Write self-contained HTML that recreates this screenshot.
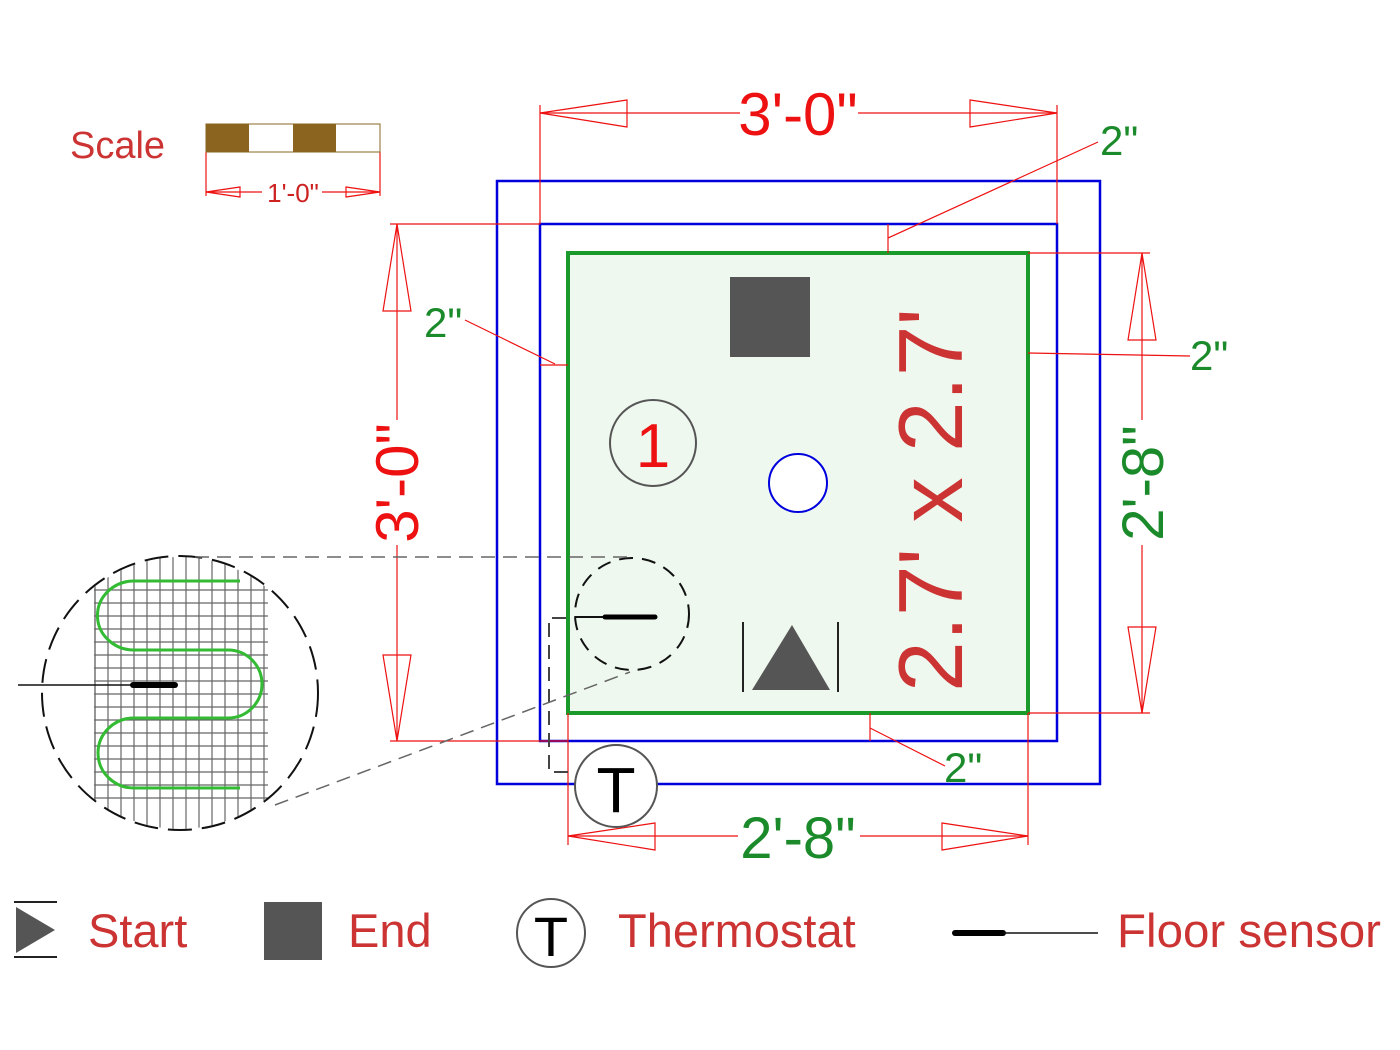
<!DOCTYPE html>
<html><head><style>body{margin:0;background:#fff}svg{display:block}</style></head><body>
<svg width="1400" height="1050" viewBox="0 0 1400 1050" xmlns="http://www.w3.org/2000/svg" font-family="Liberation Sans, sans-serif">
<defs><clipPath id="zc"><ellipse cx="180" cy="693" rx="137" ry="136"/></clipPath></defs>
<!-- rooms -->
<rect x="497" y="181" width="603" height="603" fill="none" stroke="#0000dd" stroke-width="2.5"/>
<rect x="540" y="224" width="517" height="517" fill="none" stroke="#0000dd" stroke-width="2.5"/>
<rect x="568" y="253" width="460" height="460" fill="#eef8ef" stroke="#1a9a2a" stroke-width="4"/>
<g stroke="#ee1111" stroke-width="1.2" fill="none">
<line x1="540" y1="113" x2="740" y2="113"/><line x1="858" y1="113" x2="1057" y2="113"/>
<line x1="540" y1="105" x2="540" y2="224"/><line x1="1057" y1="105" x2="1057" y2="224"/>
<polygon points="540,113 627,100 627,127"/><polygon points="1057,113 970,100 970,127"/>
<line x1="397" y1="224" x2="397" y2="420"/><line x1="397" y1="545" x2="397" y2="741"/>
<line x1="390" y1="224" x2="540" y2="224"/><line x1="390" y1="741" x2="568" y2="741"/>
<polygon points="397,224 383,311 411,311"/><polygon points="397,741 383,655 411,655"/>
<line x1="1142" y1="253" x2="1142" y2="420"/><line x1="1142" y1="545" x2="1142" y2="713"/>
<line x1="1028" y1="253" x2="1150" y2="253"/><line x1="1028" y1="713" x2="1150" y2="713"/>
<polygon points="1142,253 1128,340 1156,340"/><polygon points="1142,713 1128,627 1156,627"/>
<line x1="568" y1="836" x2="738" y2="836"/><line x1="860" y1="836" x2="1028" y2="836"/>
<line x1="568" y1="713" x2="568" y2="845"/><line x1="1028" y1="713" x2="1028" y2="845"/>
<polygon points="568,836 655,823 655,850"/><polygon points="1028,836 942,823 942,850"/>
<line x1="1098" y1="142" x2="888" y2="238"/><line x1="888" y1="224" x2="888" y2="253"/>
<line x1="465" y1="320" x2="555" y2="364"/><line x1="540" y1="365" x2="568" y2="365"/>
<line x1="1028" y1="353" x2="1190" y2="356"/>
<line x1="870" y1="728" x2="945" y2="766"/><line x1="870" y1="713" x2="870" y2="741"/>
<line x1="206" y1="192" x2="262" y2="192"/><line x1="322" y1="192" x2="380" y2="192"/>
<line x1="206" y1="152" x2="206" y2="196"/><line x1="380" y1="152" x2="380" y2="196"/>
<polygon points="206,192 240,187 240,197"/><polygon points="380,192 346,187 346,197"/>
</g>
<text x="798" y="135" font-size="60" fill="#ee1111" text-anchor="middle">3'-0"</text>
<text transform="translate(418,483) rotate(-90)" font-size="60" fill="#ee1111" text-anchor="middle">3'-0"</text>
<text transform="translate(1163,483) rotate(-90)" font-size="58" fill="#1a8a2a" text-anchor="middle">2'-8"</text>
<text x="798" y="858" font-size="58" fill="#1a8a2a" text-anchor="middle">2'-8"</text>
<g font-size="42" fill="#1a8a2a"><text x="1100" y="155">2"</text><text x="424" y="337">2"</text><text x="1190" y="370">2"</text><text x="944" y="782">2"</text></g>
<rect x="730" y="277" width="80" height="80" fill="#555"/>
<circle cx="653" cy="443" r="43" fill="none" stroke="#555" stroke-width="2"/>
<text x="653" y="467" font-size="62" fill="#ee1111" text-anchor="middle">1</text>
<circle cx="798" cy="483" r="29" fill="#fff" stroke="#0000dd" stroke-width="2"/>
<polygon points="752,690 792,625 830,690" fill="#555"/>
<line x1="743" y1="622" x2="743" y2="692" stroke="#222" stroke-width="2"/><line x1="838" y1="622" x2="838" y2="692" stroke="#222" stroke-width="2"/>
<text transform="translate(962,500) rotate(-90)" font-size="91" fill="#cc3333" text-anchor="middle">2.7' x 2.7'</text>
<ellipse cx="632" cy="614" rx="57" ry="56" fill="none" stroke="#111" stroke-width="2" stroke-dasharray="14,9"/>
<line x1="575" y1="617" x2="605" y2="617" stroke="#111" stroke-width="2"/>
<line x1="605" y1="617" x2="655" y2="617" stroke="#000" stroke-width="5" stroke-linecap="round"/>
<polyline points="566,618 549,618 549,772 568,772" fill="none" stroke="#444" stroke-width="2" stroke-dasharray="14,8"/>
<circle cx="616" cy="786" r="41" fill="#fff" stroke="#555" stroke-width="2"/>
<text x="616" y="812" font-size="64" fill="#000" text-anchor="middle">T</text>
<!-- zoom circle -->
<g clip-path="url(#zc)" stroke="#666" stroke-width="1.2">
<line x1="95" y1="540" x2="95" y2="840"/><line x1="108" y1="540" x2="108" y2="840"/><line x1="121" y1="540" x2="121" y2="840"/><line x1="134" y1="540" x2="134" y2="840"/><line x1="147" y1="540" x2="147" y2="840"/><line x1="160" y1="540" x2="160" y2="840"/><line x1="173" y1="540" x2="173" y2="840"/><line x1="186" y1="540" x2="186" y2="840"/><line x1="199" y1="540" x2="199" y2="840"/><line x1="212" y1="540" x2="212" y2="840"/><line x1="225" y1="540" x2="225" y2="840"/><line x1="238" y1="540" x2="238" y2="840"/><line x1="251" y1="540" x2="251" y2="840"/><line x1="264" y1="540" x2="264" y2="840"/>
</g>
<g stroke="#666" stroke-width="1.2">
<line x1="70" y1="590" x2="268" y2="590"/><line x1="70" y1="603" x2="268" y2="603"/><line x1="70" y1="616" x2="268" y2="616"/><line x1="70" y1="629" x2="268" y2="629"/><line x1="70" y1="642" x2="268" y2="642"/><line x1="70" y1="655" x2="268" y2="655"/><line x1="70" y1="668" x2="268" y2="668"/><line x1="70" y1="681" x2="268" y2="681"/><line x1="70" y1="694" x2="268" y2="694"/><line x1="70" y1="707" x2="268" y2="707"/><line x1="70" y1="720" x2="268" y2="720"/><line x1="70" y1="733" x2="268" y2="733"/><line x1="70" y1="746" x2="268" y2="746"/><line x1="70" y1="759" x2="268" y2="759"/><line x1="70" y1="772" x2="268" y2="772"/><line x1="70" y1="785" x2="268" y2="785"/><line x1="70" y1="798" x2="268" y2="798"/>
</g>
<rect x="40" y="580" width="54" height="230" fill="#fff"/>
<line x1="95" y1="588" x2="95" y2="800" stroke="#666" stroke-width="1.2"/>
<rect x="268" y="560" width="60" height="260" fill="#fff"/>
<path d="M240,581 H134 A36,34 0 0 0 134,650 H228 A34,34 0 0 1 228,718 H134 A36,35 0 0 0 134,788 H240" fill="none" stroke="#33bb33" stroke-width="3"/>
<ellipse cx="180" cy="693" rx="138" ry="137" fill="none" stroke="#111" stroke-width="2" stroke-dasharray="24,10"/>
<line x1="18" y1="685" x2="135" y2="685" stroke="#111" stroke-width="1.5"/>
<line x1="133" y1="685" x2="175" y2="685" stroke="#000" stroke-width="6" stroke-linecap="round"/>
<line x1="195" y1="557" x2="630" y2="557" stroke="#666" stroke-width="1.5" stroke-dasharray="14,8"/>
<line x1="275" y1="805" x2="630" y2="672" stroke="#666" stroke-width="1.5" stroke-dasharray="14,8"/>
<!-- scale -->
<text x="70" y="158" font-size="38" fill="#cc3333">Scale</text>
<rect x="206" y="124" width="174" height="28" fill="#fff" stroke="#8b6520" stroke-width="1"/>
<rect x="206" y="124" width="43" height="28" fill="#8b6520"/><rect x="293" y="124" width="43" height="28" fill="#8b6520"/>
<text x="293" y="202" font-size="26" fill="#cc2222" text-anchor="middle">1'-0"</text>
<!-- legend -->
<line x1="14" y1="902" x2="57" y2="902" stroke="#222" stroke-width="2"/><line x1="14" y1="957" x2="57" y2="957" stroke="#222" stroke-width="2"/>
<polygon points="16,907 55,930 16,953" fill="#555"/>
<text x="88" y="947" font-size="47" fill="#cc3333">Start</text>
<rect x="264" y="902" width="58" height="58" fill="#555"/>
<text x="348" y="947" font-size="47" fill="#cc3333">End</text>
<circle cx="551" cy="933" r="34" fill="#fff" stroke="#555" stroke-width="2"/>
<text x="551" y="956" font-size="56" fill="#000" text-anchor="middle">T</text>
<text x="618" y="947" font-size="47" fill="#cc3333">Thermostat</text>
<line x1="955" y1="933" x2="1003" y2="933" stroke="#000" stroke-width="6" stroke-linecap="round"/>
<line x1="1003" y1="933" x2="1098" y2="933" stroke="#111" stroke-width="1.5"/>
<text x="1117" y="947" font-size="47.5" fill="#cc3333">Floor sensor</text>
</svg>
</body></html>
